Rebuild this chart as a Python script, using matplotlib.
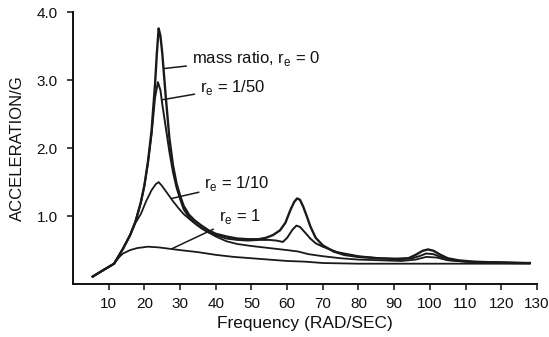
#Acceleration response vs frequency for several mass ratios.
import matplotlib
matplotlib.use('Agg')
import matplotlib.pyplot as plt

plt.rcParams['font.family'] = ['Liberation Sans', 'DejaVu Sans']

#mass ratio r_e = 0
freq_r0 = [5.5, 8, 11.5, 14, 16, 17.5, 19, 20, 21, 22, 23, 23.5, 24, 24.5,
           25, 26, 27, 28, 29, 30, 31, 32.5, 34, 36, 38, 40, 43, 46, 49, 52,
           54, 56, 58, 59.5, 61, 62, 62.8, 63.6, 64.5, 65.5, 66.5, 68, 70, 73,
           76, 80, 85, 90, 94, 96, 98, 99.5, 101, 103, 105, 108, 112, 118,
           124, 128]
acc_r0 = [0.11, 0.19, 0.30, 0.52, 0.72, 0.92, 1.20, 1.45, 1.80, 2.25, 2.95,
          3.40, 3.76, 3.65, 3.40, 2.75, 2.15, 1.75, 1.48, 1.30, 1.15, 1.02,
          0.94, 0.86, 0.79, 0.74, 0.70, 0.67, 0.66, 0.66, 0.68, 0.72, 0.79,
          0.90, 1.10, 1.21, 1.26, 1.24, 1.14, 1.00, 0.85, 0.68, 0.57, 0.48,
          0.43, 0.40, 0.38, 0.37, 0.38, 0.43, 0.49, 0.51, 0.49, 0.43, 0.38,
          0.35, 0.33, 0.32, 0.31, 0.31]

#r_e = 1/50
freq_r50 = [5.5, 8, 11.5, 14, 16, 17.5, 19, 20, 21, 22, 23, 23.8, 24.5, 25,
            26, 27, 28, 29, 30, 31, 32.5, 34, 36, 38, 40, 43, 46, 49, 52, 55,
            57, 58.8, 60, 61.5, 62.6, 63.6, 65, 66.5, 68, 70, 74, 80, 86, 92,
            95, 97, 99, 101, 103, 106, 110, 118, 128]
acc_r50 = [0.11, 0.19, 0.30, 0.52, 0.72, 0.92, 1.20, 1.45, 1.78, 2.20, 2.75,
           2.97, 2.85, 2.65, 2.30, 1.95, 1.65, 1.42, 1.25, 1.10, 0.98, 0.90,
           0.82, 0.76, 0.72, 0.67, 0.65, 0.64, 0.65, 0.65, 0.64, 0.62, 0.68,
           0.80, 0.86, 0.84, 0.76, 0.67, 0.60, 0.55, 0.47, 0.41, 0.38, 0.37,
           0.38, 0.41, 0.45, 0.44, 0.40, 0.35, 0.33, 0.32, 0.31]

#r_e = 1/10
freq_r10 = [5.5, 8, 11.5, 14, 16, 17.5, 19, 20.5, 22, 23.2, 24, 25, 26.5, 28,
            29.5, 31, 33, 35, 37, 40, 43, 46, 50, 55, 60, 63, 66, 70, 75, 80,
            86, 92, 96, 99, 102, 105, 110, 118, 128]
acc_r10 = [0.11, 0.19, 0.30, 0.52, 0.72, 0.90, 1.03, 1.22, 1.38, 1.47, 1.50,
           1.44, 1.33, 1.22, 1.12, 1.03, 0.94, 0.86, 0.79, 0.70, 0.63, 0.59,
           0.56, 0.53, 0.50, 0.48, 0.44, 0.41, 0.38, 0.36, 0.35, 0.34, 0.36,
           0.40, 0.39, 0.35, 0.33, 0.32, 0.31]

#r_e = 1
freq_r1 = [5.5, 8, 11.5, 13, 14, 16, 18, 21, 24, 27, 30, 35, 40, 45, 50, 55,
           60, 65, 70, 80, 90, 100, 110, 128]
acc_r1 = [0.11, 0.19, 0.30, 0.40, 0.45, 0.50, 0.53, 0.55, 0.54, 0.52, 0.50,
          0.47, 0.43, 0.40, 0.38, 0.36, 0.34, 0.33, 0.31, 0.30, 0.30, 0.30,
          0.30, 0.30]

x_ticks = [10, 20, 30, 40, 50, 60, 70, 80, 90, 100, 110, 120, 130]
y_ticks = [1.0, 2.0, 3.0, 4.0]

#labels: (text, text x, text y, leader start x, leader start y)
labels = [
    ('mass ratio, r$_{\\mathregular{e}}$ = 0', 33.3, 3.32, 25.4, 3.17),
    ('r$_{\\mathregular{e}}$ = 1/50', 35.6, 2.89, 24.9, 2.71),
    ('r$_{\\mathregular{e}}$ = 1/10', 36.8, 1.48, 27.7, 1.26),
    ('r$_{\\mathregular{e}}$ = 1', 40.8, 0.99, 27.7, 0.52),
]

fig = plt.figure(figsize=(5.49, 3.37), dpi=100)
ax = fig.add_axes([0.133, 0.157, 0.845, 0.807])

line_col = '#1a1a1a'
ax.plot(freq_r1, acc_r1, color=line_col, lw=1.3)
ax.plot(freq_r10, acc_r10, color=line_col, lw=1.3)
ax.plot(freq_r50, acc_r50, color=line_col, lw=1.4)
ax.plot(freq_r0, acc_r0, color=line_col, lw=1.7)

for text, tx, ty, lx, ly in labels:
    ax.annotate(text, xy=(lx, ly), xytext=(tx, ty), fontsize=12,
                ha='left', va='center', color='#111111',
                arrowprops=dict(arrowstyle='-', color=line_col, lw=1.1,
                                shrinkA=2, shrinkB=0))

ax.set_xlim(0, 130)
ax.set_ylim(0, 4.0)
ax.set_xticks(x_ticks)
ax.set_xticklabels([str(v) for v in x_ticks])
ax.set_yticks(y_ticks)
ax.set_yticklabels([f'{v:.1f}' for v in y_ticks])
ax.tick_params(direction='out', length=4, width=1.1, labelsize=11,
               colors='#111111')
ax.tick_params(axis='y', pad=7)
ax.tick_params(axis='x', pad=5)

ax.spines['top'].set_visible(False)
ax.spines['right'].set_visible(False)
for s in ['left', 'bottom']:
    ax.spines[s].set_linewidth(1.4)
    ax.spines[s].set_color('#111111')

ax.set_xlabel('Frequency (RAD/SEC)', fontsize=12.5, color='#111111')
ax.set_ylabel('ACCELERATION/G', fontsize=12, color='#111111')
ax.yaxis.set_label_coords(-0.103, 0.5)

fig.savefig('out.png', dpi=100)
